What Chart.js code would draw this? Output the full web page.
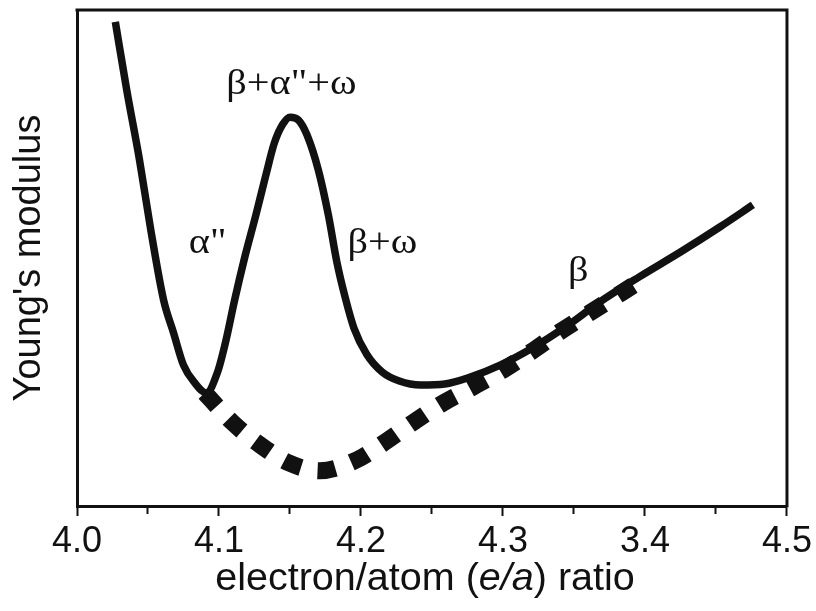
<!DOCTYPE html>
<html><head><meta charset="utf-8">
<script src="https://cdn.jsdelivr.net/npm/chart.js@4/dist/chart.umd.min.js"></script>
<style>html,body{margin:0;padding:0;background:#fff}#wrap{width:816px;height:611px}</style>
</head><body><div id="wrap"><canvas id="c" width="816" height="611"></canvas></div>
<script>
// Solid curve (measured)
const solidX = [4.027,4.035,4.044,4.052,4.061,4.068,4.075,4.083,4.091,4.099,4.105,4.111,4.118,4.126,4.133,4.139,4.145,4.150,4.156,4.162,4.170,4.177,4.183,4.189,4.195,4.204,4.215,4.227,4.242,4.259,4.277,4.298,4.321,4.345,4.368,4.396,4.425,4.453,4.476];
const solidY = [97.6,83.9,69.8,55.6,41.5,34.9,28.4,24.8,22.8,27.0,33.5,41.5,50.0,58.7,66.7,73.2,77.0,78.4,77.8,74.8,67.7,58.7,49.2,41.9,35.9,30.6,27.0,25.2,24.4,24.6,26.0,28.4,31.9,36.3,41.1,46.2,51.2,56.3,60.7];
// Dashed curve (measured)
const dashX = [4.090,4.110,4.129,4.149,4.171,4.197,4.217,4.237,4.258,4.279,4.300,4.321,4.340,4.361,4.393];
const dashY = [22.8,16.7,12.3,8.7,7.1,9.3,12.9,16.9,20.8,24.0,27.4,31.3,35.1,38.9,44.7];
const tickLabels = ['4.0','4.1','4.2','4.3','3.4','4.5'];
const phaseLabels = ['β+α"+ω','α"','β+ω','β'];
const phaseX = [4.151, 4.092, 4.215, 4.353];
const phaseY = [84.9, 53.0, 53.0, 47.2];
const xTitleParts = ['electron/atom (', 'e/a', ') ratio'];
const yTitle = "Young's modulus";

const INK = '#111';
const SANS = '"Liberation Sans", Arial, Helvetica, sans-serif';
const SERIF = '"Liberation Serif", "Times New Roman", serif';

const extras = {
  id: 'extras',
  afterDraw(chart) {
    const {ctx, chartArea: a, scales: {x, y}} = chart;
    ctx.save();
    ctx.strokeStyle = INK; ctx.lineWidth = 3;
    ctx.beginPath();
    ctx.moveTo(a.left - 1.5, a.top); ctx.lineTo(a.right, a.top); ctx.lineTo(a.right, a.bottom + 1.5);
    ctx.stroke();
    ctx.fillStyle = INK;
    ctx.font = '36px ' + SERIF;
    ctx.textAlign = 'center'; ctx.textBaseline = 'middle';
    phaseLabels.forEach((t, i) => {
      ctx.save();
      ctx.translate(x.getPixelForValue(phaseX[i]), y.getPixelForValue(phaseY[i]));
      ctx.scale(1.12, 1);
      ctx.fillText(t, 0, 0);
      ctx.restore();
    });
    // x title with italic part
    const fonts = ['38px ' + SANS, 'italic 38px ' + SANS, '38px ' + SANS];
    const sx = 1.04;
    let widths = xTitleParts.map((t, i) => { ctx.font = fonts[i]; return ctx.measureText(t).width * sx; });
    const total = widths.reduce((s, w) => s + w, 0);
    let cx = (a.left + a.right) / 2 - 7 - total / 2;
    ctx.textAlign = 'left'; ctx.textBaseline = 'alphabetic';
    xTitleParts.forEach((t, i) => {
      ctx.save();
      ctx.font = fonts[i];
      ctx.translate(cx, a.bottom + 84);
      ctx.scale(sx, 1);
      ctx.fillText(t, 0, 0);
      ctx.restore();
      cx += widths[i];
    });
    ctx.restore();
  }
};

new Chart(document.getElementById('c'), {
  type: 'line',
  data: {
    datasets: [
      { data: dashX.map((v, i) => ({x: v, y: dashY[i]})), borderColor: INK, borderWidth: 17,
        borderDash: [18, 17], borderCapStyle: 'butt', pointRadius: 0, cubicInterpolationMode: 'monotone', fill: false },
      { data: solidX.map((v, i) => ({x: v, y: solidY[i]})), borderColor: INK, borderWidth: 7.5,
        borderCapStyle: 'butt', borderJoinStyle: 'round', pointRadius: 0, cubicInterpolationMode: 'monotone', fill: false }
    ]
  },
  options: {
    responsive: false, animation: false, devicePixelRatio: 1,
    layout: { padding: { top: 10, right: 29, left: 0, bottom: 0 } },
    plugins: { legend: { display: false }, tooltip: { enabled: false } },
    scales: {
      x: {
        type: 'linear', min: 4.0, max: 4.5,
        afterFit: s => { s.height = 105; },
        border: { display: true, color: INK, width: 3 },
        grid: { drawOnChartArea: false, drawTicks: true, tickLength: 10, tickWidth: 2, tickColor: INK,
                tickBorderDash: ctx => (ctx.index % 2 === 1 ? [6, 100] : []) },
        ticks: { stepSize: 0.05, autoSkip: false, maxRotation: 0, padding: 4, color: INK,
                 font: { family: SANS, size: 36 },
                 callback: (v, i) => (i % 2 === 0 ? tickLabels[i / 2] : '') }
      },
      y: {
        min: 0, max: 100,
        afterFit: s => { s.width = 77; },
        border: { display: true, color: INK, width: 3 },
        grid: { drawOnChartArea: false, drawTicks: false },
        ticks: { display: false },
        title: { display: true, text: yTitle, color: INK, font: { family: SANS, size: 38 }, padding: { top: 7, bottom: 0 } }
      }
    }
  },
  plugins: [extras]
});
</script></body></html>
